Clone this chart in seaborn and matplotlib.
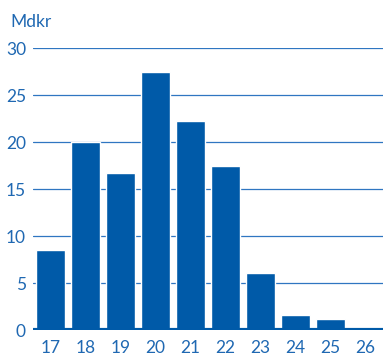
import matplotlib
matplotlib.use("Agg")
import matplotlib.pyplot as plt
import seaborn as sns
import pandas as pd

# Annual amounts in billions of kronor
years = ["17", "18", "19", "20", "21", "22", "23", "24", "25", "26"]
amounts = [8.5, 20.0, 16.7, 27.4, 22.2, 17.4, 6.1, 1.6, 1.2, 0.25]
y_ticks = [0, 5, 10, 15, 20, 25, 30]
unit_label = "Mdkr"

bar_color = "#005AA8"
text_color = "#1F68B2"
grid_color = "#2F76C1"

sns.set_theme(style="white")
plt.rcParams["font.family"] = ["Lato", "DejaVu Sans"]

df = pd.DataFrame({"year": years, "amount": amounts})

fig = plt.figure(figsize=(3.83, 3.56), dpi=100)
ax = fig.add_axes([0.086, 0.073, 0.914, 0.792])

sns.barplot(data=df, x="year", y="amount", color=bar_color, saturation=1,
            width=0.83, ax=ax, zorder=3)

ax.set_ylim(0, 30)
ax.set_xlim(-0.5, 9.5)
ax.set_yticks(y_ticks)
ax.set_yticklabels([str(t) for t in y_ticks])
ax.set_xlabel("")
ax.set_ylabel("")

for t in y_ticks[1:]:
    ax.axhline(t, color=grid_color, lw=0.9, zorder=1)
ax.axhline(0, color=bar_color, lw=3.0, zorder=4)

for s in ax.spines.values():
    s.set_visible(False)

ax.tick_params(axis="both", length=0, labelsize=12.5, colors=text_color)
ax.tick_params(axis="y", pad=5)
ax.tick_params(axis="x", pad=7.5)

fig.text(10 / 383, 1 - 22 / 356, unit_label, color=text_color, fontsize=12.5,
         ha="left", va="center")

fig.savefig("out.png", dpi=100)
